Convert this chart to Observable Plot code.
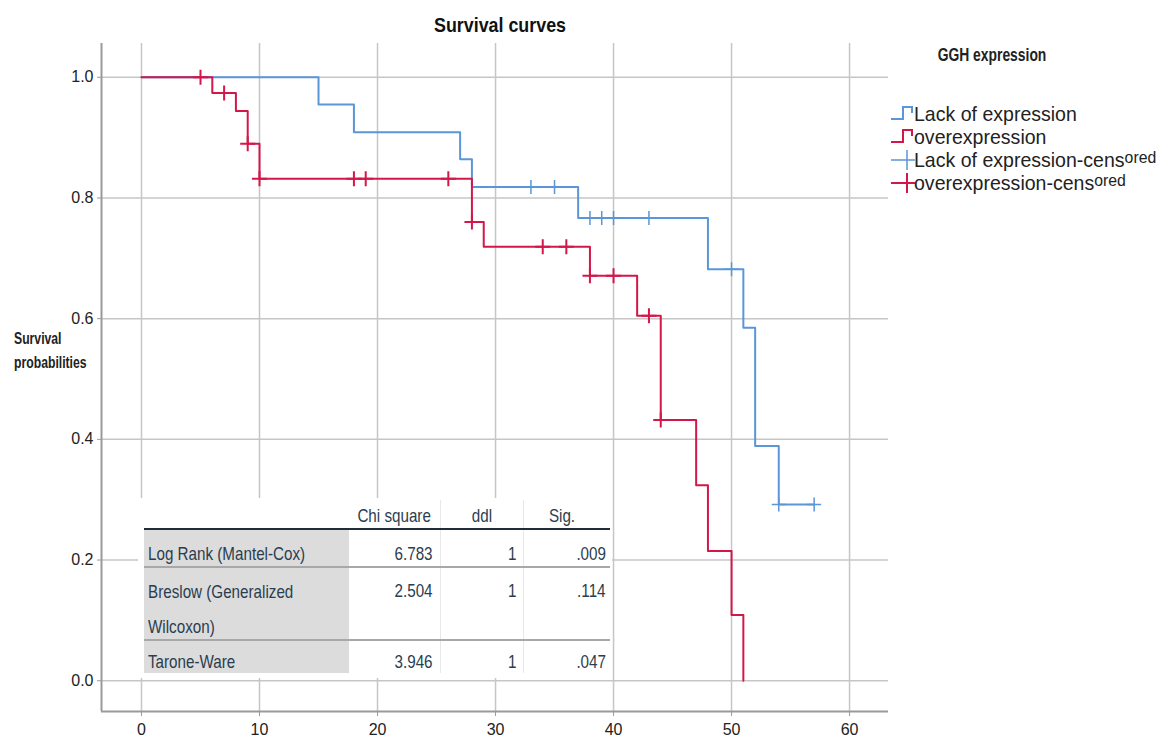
<!DOCTYPE html>
<html><head><meta charset="utf-8">
<script src="https://cdn.jsdelivr.net/npm/d3@7"></script>
<script src="https://cdn.jsdelivr.net/npm/@observablehq/plot@0.6"></script>
<style>
body{margin:0;background:#fff;width:1160px;height:742px;overflow:hidden;position:relative;font-family:"Liberation Sans",Arial,sans-serif;}
.abs{position:absolute;white-space:nowrap;}
#title{left:0;width:1000px;top:12px;text-align:center;font-weight:bold;font-size:21px;line-height:26px;color:#111;transform:scaleX(0.85);transform-origin:500px 0;}
#chart{position:absolute;left:0;top:40px;}
#ylab{left:14px;top:326px;font-weight:bold;font-size:16.5px;line-height:24px;color:#222;transform:scaleX(0.74);transform-origin:0 0;}
#legtitle{left:892px;width:200px;top:43px;text-align:center;font-weight:bold;font-size:19px;line-height:24px;color:#222;transform:scaleX(0.73);transform-origin:100px 0;}
.legicon{left:889px;}
.legtext{left:914px;height:23px;font-size:21px;line-height:23px;color:#222;transform:scaleX(0.93);transform-origin:0 0;}
.sup{font-size:17px;position:relative;top:-4px;}
#table{left:138px;top:498px;width:474px;height:180px;background:#fff;color:#2b3d4f;font-size:19px;}
#table div{position:absolute;white-space:nowrap;line-height:22px;}
</style></head>
<body>
<div id="title" class="abs">Survival curves</div>
<div id="chart"></div>
<div id="ylab" class="abs">Survival<br>probabilities</div>
<div id="legtitle" class="abs">GGH expression</div>
<div id="legend"></div>
<div id="table" class="abs"></div>
<script>
// ---- data ----
const blueTimes = [0, 15, 18, 27, 28, 37, 48, 51, 52, 54, 57];
const blueSurv  = [1.0, 0.955, 0.909, 0.864, 0.818, 0.767, 0.682, 0.585, 0.389, 0.292, 0.292];
const blueCensTimes = [33, 35, 38, 39, 40, 43, 50, 54, 57];
const blueCensSurv  = [0.818, 0.818, 0.767, 0.767, 0.767, 0.767, 0.682, 0.292, 0.292];

const redTimes = [0, 6, 8, 9, 10, 28, 29, 38, 42, 44, 47, 48, 50, 51];
const redSurv  = [1.0, 0.974, 0.944, 0.89, 0.832, 0.76, 0.719, 0.671, 0.605, 0.432, 0.324, 0.215, 0.109, 0.0];
const redCensTimes = [5, 7, 9, 10, 18, 19, 26, 28, 34, 36, 38, 40, 43, 44];
const redCensSurv  = [1.0, 0.974, 0.89, 0.832, 0.832, 0.832, 0.832, 0.76, 0.719, 0.719, 0.671, 0.671, 0.605, 0.432];

const xTicks = [0, 10, 20, 30, 40, 50, 60];
const yTicks = [0, 0.2, 0.4, 0.6, 0.8, 1.0];

const legendLabels = ["Lack of expression", "overexpression", "Lack of expression-cens", "overexpression-cens"];
const legendSuffix = ["", "", "ored", "ored"];

const testNames = ["Log Rank (Mantel-Cox)", "Breslow (Generalized<br>Wilcoxon)", "Tarone-Ware"];
const chiSquare = ["6.783", "2.504", "3.946"];
const ddl = ["1", "1", "1"];
const sig = [".009", ".114", ".047"];

// ---- styling ----
const blueColor = "#5b96d6";
const redColor = "#d4174a";
const gridColor = "#c6c6c6";
const xDomain = [-3.39, 63.3];
const yDomain = [-0.051, 1.056];

const toRows = (t, s) => t.map((v, i) => ({t: v, s: s[i]}));
const blue = toRows(blueTimes, blueSurv);
const red = toRows(redTimes, redSurv);
const blueCens = toRows(blueCensTimes, blueCensSurv);
const redCens = toRows(redCensTimes, redCensSurv);

const plus = {draw(ctx, size) {
  const r = Math.sqrt(size / Math.PI);
  ctx.moveTo(-r, 0); ctx.lineTo(r, 0);
  ctx.moveTo(0, -r); ctx.lineTo(0, r);
}};

const chart = Plot.plot({
  width: 1160, height: 702,
  marginTop: 3, marginBottom: 31, marginLeft: 101, marginRight: 272,
  x: {domain: xDomain},
  y: {domain: yDomain},
  style: {fontFamily: '"Liberation Sans", Arial, sans-serif', fontSize: "16px", color: "#222", background: "transparent"},
  marks: [
    Plot.gridX(xTicks, {stroke: gridColor, strokeOpacity: 1, strokeWidth: 1.5}),
    Plot.gridY(yTicks, {stroke: gridColor, strokeOpacity: 1, strokeWidth: 1.5}),
    Plot.ruleX([xDomain[0]], {stroke: "#9a9a9a", strokeWidth: 2}),
    Plot.ruleY([yDomain[0]], {stroke: "#9a9a9a", strokeWidth: 2}),
    Plot.axisX(xTicks, {tickSize: 5, tickPadding: 7, stroke: "#9a9a9a", label: null, fill: "#222"}),
    Plot.axisY(yTicks, {tickSize: 4, tickPadding: 4, stroke: "#9a9a9a", tickFormat: d3.format(".1f"), label: null, fill: "#222"}),
    Plot.line(blue, {x: "t", y: "s", curve: "step-after", stroke: blueColor, strokeWidth: 2}),
    Plot.line(red, {x: "t", y: "s", curve: "step-after", stroke: redColor, strokeWidth: 2}),
    Plot.dot(blueCens, {x: "t", y: "s", symbol: plus, r: 7, stroke: blueColor, fill: "none", strokeWidth: 1.5}),
    Plot.dot(redCens, {x: "t", y: "s", symbol: plus, r: 7.5, stroke: redColor, fill: "none", strokeWidth: 2})
  ]
});
document.getElementById("chart").appendChild(chart);

// ---- legend ----
const legColors = [blueColor, redColor, blueColor, redColor];
const legTops = [102, 125, 148, 171];
const legend = document.getElementById("legend");
legendLabels.forEach((lab, i) => {
  const icon = document.createElement("div");
  icon.className = "abs legicon";
  icon.style.top = legTops[i] + "px";
  icon.innerHTML = i < 2
    ? `<svg width="26" height="23" style="display:block"><path d="M2,17 H14 V5 H23 V11" fill="none" stroke="${legColors[i]}" stroke-width="2"/></svg>`
    : `<svg width="26" height="23" style="display:block"><path d="M2,12 H26 M18,2 V22" fill="none" stroke="${legColors[i]}" stroke-width="${i === 3 ? 2 : 1.5}"/></svg>`;
  legend.appendChild(icon);
  const txt = document.createElement("div");
  txt.className = "abs legtext";
  txt.style.top = legTops[i] + "px";
  txt.innerHTML = lab + (legendSuffix[i] ? `<span class="sup">${legendSuffix[i]}</span>` : "");
  legend.appendChild(txt);
});

// ---- table ----
const T = document.getElementById("table");
const ox = 138, oy = 498, tw = 474; // table origin in page coords
const add = (html, style) => { const d = document.createElement("div"); d.innerHTML = html; Object.assign(d.style, style); T.appendChild(d); return d; };
const sx = "scaleX(0.8)";
// gray label column
add("", {left: (144 - ox) + "px", top: (530 - oy) + "px", width: (349 - 144) + "px", height: (673 - 530) + "px", background: "#dcdcdc"});
// column separators
[440, 523].forEach(x => add("", {left: (x - ox) + "px", top: (500 - oy) + "px", width: "1px", height: (673 - 500) + "px", background: "#e8e8e8"}));
// header rule and separators
add("", {left: (144 - ox) + "px", top: (528 - oy) + "px", width: (610 - 144) + "px", height: "2px", background: "#1e2d38"});
[566, 639].forEach(y => add("", {left: (144 - ox) + "px", top: (y - oy) + "px", width: (610 - 144) + "px", height: "2px", background: "#a8a8a8"}));
// header
add("Chi square", {right: (ox + tw - 431) + "px", top: (517 - 12 - oy) + "px", transform: sx, transformOrigin: "100% 0"});
add("ddl", {left: (482 - 30 - ox) + "px", width: "60px", textAlign: "center", top: (517 - 12 - oy) + "px", transform: sx, transformOrigin: "50% 0"});
add("Sig.", {left: (562 - 30 - ox) + "px", width: "60px", textAlign: "center", top: (517 - 12 - oy) + "px", transform: sx, transformOrigin: "50% 0"});
// rows
const rowTops = [555, 592, 663];
testNames.forEach((n, i) => {
  const top = rowTops[i] - 12 - oy;
  add(n, {left: (148 - ox) + "px", top: top + "px", lineHeight: i === 1 ? "35px" : "22px", marginTop: i === 1 ? "-6px" : "0", transform: sx, transformOrigin: "0 0"});
  add(chiSquare[i], {right: (ox + tw - 433) + "px", top: top + "px", transform: sx, transformOrigin: "100% 0"});
  add(ddl[i], {right: (ox + tw - 517) + "px", top: top + "px", transform: sx, transformOrigin: "100% 0"});
  add(sig[i], {right: (ox + tw - 606) + "px", top: top + "px", transform: sx, transformOrigin: "100% 0"});
});
</script>
</body></html>
